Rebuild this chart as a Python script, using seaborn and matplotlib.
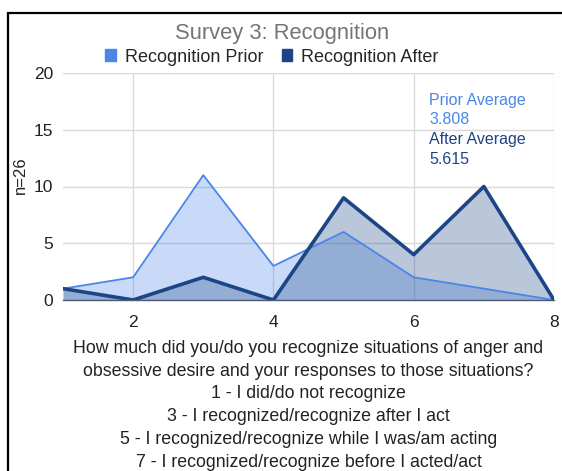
import numpy as np
import pandas as pd
import matplotlib
matplotlib.use("Agg")
import matplotlib.pyplot as plt
import seaborn as sns
from matplotlib.patches import Patch, Rectangle

# Survey responses (count of people per rating 1-8)
ratings = [1, 2, 3, 4, 5, 6, 7, 8]
prior_counts = [1, 2, 11, 3, 6, 2, 1, 0]
after_counts = [1, 0, 2, 0, 9, 4, 10, 0]
prior_avg = "3.808"
after_avg = "5.615"

prior_color = "#4a86e8"
after_color = "#1c4587"

df = pd.DataFrame({"rating": ratings, "prior": prior_counts, "after": after_counts})

sns.set_style("white")
plt.rcParams['font.family'] = ['Liberation Sans', 'DejaVu Sans']

fig = plt.figure(figsize=(5.62, 4.71), dpi=100)
ax = fig.add_axes([63 / 562, 1 - 300 / 471, (554 - 63) / 562, (300 - 73) / 471])

# filled areas
ax.fill_between(df["rating"], df["prior"], color=prior_color, alpha=0.3, lw=0)
ax.fill_between(df["rating"], df["after"], color=after_color, alpha=0.3, lw=0)

sns.lineplot(data=df, x="rating", y="prior", ax=ax, color=prior_color, lw=1.3)
sns.lineplot(data=df, x="rating", y="after", ax=ax, color=after_color, lw=2.6)

ax.set_xlim(1, 8)
ax.set_ylim(0, 20)
ax.set_xticks([2, 4, 6, 8])
ax.set_yticks([0, 5, 10, 15, 20])
ax.grid(True, color="#d9d9d9", lw=1)
ax.set_axisbelow(True)
for s in ["top", "right", "left"]:
    ax.spines[s].set_visible(False)
ax.spines["bottom"].set_color("#4d5b75")
ax.spines["bottom"].set_linewidth(1)
ax.tick_params(axis="y", length=0, labelsize=12.5, colors="#222222", pad=7)
ax.tick_params(axis="x", length=0, labelsize=12.5, colors="#222222", pad=11)

ax.set_ylabel("n=26", fontsize=12, color="#222222")
ax.yaxis.set_label_coords(-0.072, 0.55)
ax.set_xlabel("How much did you/do you recognize situations of anger and\n"
              "obsessive desire and your responses to those situations?\n"
              "1 - I did/do not recognize\n"
              "3 - I recognized/recognize after I act\n"
              "5 - I recognized/recognize while I was/am acting\n"
              "7 - I recognized/recognize before I acted/act",
              fontsize=12.8, color="#222222", linespacing=1.44, labelpad=7)

# averages
ax.text(6.22, 17.6, "Prior Average", color=prior_color, fontsize=11.5, va="center", ha="left")
ax.text(6.22, 15.9, prior_avg, color=prior_color, fontsize=11.5, va="center", ha="left")
ax.text(6.22, 14.1, "After Average", color=after_color, fontsize=11.5, va="center", ha="left")
ax.text(6.22, 12.4, after_avg, color=after_color, fontsize=11.5, va="center", ha="left")

fig.text(282 / 562, 1 - 33 / 471, "Survey 3: Recognition", ha="center", va="center",
         fontsize=15.8, color="#757575")

handles = [Patch(color=prior_color, label="Recognition Prior"),
           Patch(color=after_color, label="Recognition After")]
fig.legend(handles=handles, loc="center", bbox_to_anchor=(272 / 562, 1 - 57 / 471),
           ncol=2, frameon=False, fontsize=13, handlelength=0.6, handleheight=0.6,
           handletextpad=0.5, columnspacing=1.0)

# outer border
fig.patches.append(Rectangle((8 / 562, -0.05), 1.0, 1 - 13 / 471 + 0.05,
                             transform=fig.transFigure, fill=False,
                             edgecolor="black", lw=1.6))

fig.savefig("out.png", dpi=100)
